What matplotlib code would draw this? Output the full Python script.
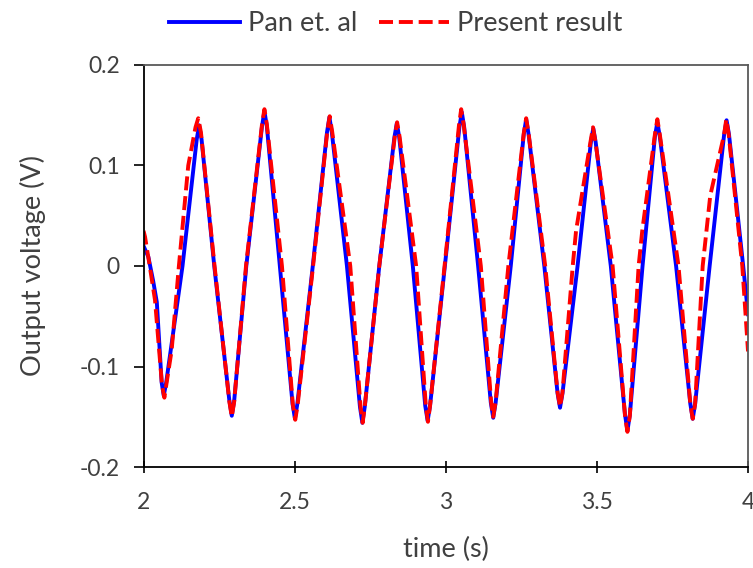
import matplotlib.pyplot as plt

# values (time in s, voltage in V)
pan_t = [2.000, 2.016, 2.032, 2.044, 2.060, 2.067, 2.075, 2.129,
         2.176, 2.184, 2.192, 2.234, 2.284, 2.292, 2.300, 2.340,
         2.392, 2.400, 2.408, 2.451, 2.493, 2.501, 2.509, 2.560,
         2.607, 2.615, 2.623, 2.673, 2.716, 2.724, 2.732, 2.780,
         2.830, 2.838, 2.846, 2.891, 2.932, 2.940, 2.948, 2.997,
         3.045, 3.053, 3.061, 3.107, 3.149, 3.157, 3.165, 3.215,
         3.258, 3.266, 3.274, 3.326, 3.370, 3.378, 3.386, 3.436,
         3.480, 3.488, 3.496, 3.546, 3.593, 3.601, 3.609, 3.651,
         3.692, 3.700, 3.708, 3.762, 3.809, 3.817, 3.825, 3.873,
         3.921, 3.929, 3.937, 3.984, 4.000]
pan_v = [0.020, 0.009, -0.015, -0.036, -0.116, -0.129, -0.116, 0.000,
         0.126, 0.140, 0.126, 0.000, -0.134, -0.149, -0.134, 0.000,
         0.139, 0.154, 0.139, 0.000, -0.137, -0.152, -0.137, 0.000,
         0.133, 0.148, 0.133, 0.000, -0.140, -0.156, -0.140, 0.000,
         0.128, 0.142, 0.128, 0.000, -0.139, -0.154, -0.139, 0.000,
         0.138, 0.153, 0.138, 0.000, -0.136, -0.151, -0.136, 0.000,
         0.131, 0.146, 0.131, 0.000, -0.127, -0.141, -0.127, 0.000,
         0.123, 0.137, 0.123, 0.000, -0.148, -0.164, -0.148, 0.000,
         0.129, 0.143, 0.129, 0.000, -0.137, -0.152, -0.137, 0.000,
         0.131, 0.145, 0.131, 0.000, -0.048]

present_t = [2.000, 2.005, 2.021, 2.038, 2.061, 2.069, 2.077, 2.093,
             2.117, 2.148, 2.172, 2.181, 2.190, 2.235, 2.284, 2.292,
             2.300, 2.339, 2.392, 2.400, 2.408, 2.458, 2.494, 2.502,
             2.510, 2.561, 2.608, 2.616, 2.624, 2.684, 2.718, 2.725,
             2.732, 2.780, 2.831, 2.839, 2.847, 2.902, 2.934, 2.941,
             2.948, 2.996, 3.044, 3.051, 3.059, 3.116, 3.150, 3.157,
             3.165, 3.207, 3.258, 3.266, 3.274, 3.329, 3.370, 3.378,
             3.386, 3.420, 3.431, 3.479, 3.487, 3.495, 3.552, 3.593,
             3.601, 3.609, 3.638, 3.650, 3.692, 3.700, 3.708, 3.770,
             3.809, 3.817, 3.825, 3.850, 3.875, 3.921, 3.928, 3.936,
             3.981, 4.000]
present_v = [0.035, 0.029, -0.001, -0.034, -0.118, -0.131, -0.115, -0.084,
             0.000, 0.100, 0.138, 0.147, 0.133, 0.000, -0.135, -0.150,
             -0.135, 0.000, 0.141, 0.156, 0.141, 0.000, -0.138, -0.153,
             -0.138, 0.000, 0.134, 0.149, 0.134, 0.000, -0.140, -0.156,
             -0.140, 0.000, 0.128, 0.143, 0.129, 0.000, -0.139, -0.155,
             -0.139, 0.000, 0.141, 0.156, 0.141, 0.000, -0.135, -0.150,
             -0.135, 0.000, 0.132, 0.147, 0.132, 0.000, -0.126, -0.140,
             -0.126, 0.000, 0.035, 0.124, 0.138, 0.124, 0.000, -0.149,
             -0.165, -0.149, 0.000, 0.035, 0.131, 0.146, 0.131, 0.000,
             -0.137, -0.152, -0.137, 0.000, 0.070, 0.131, 0.146, 0.131,
             0.000, -0.085]

x_ticks = [2, 2.5, 3, 3.5, 4]
x_tick_labels = ['2', '2.5', '3', '3.5', '4']
y_ticks = [-0.2, -0.1, 0, 0.1, 0.2]
y_tick_labels = ['-0.2', '-0.1', '0', '0.1', '0.2']

plt.rcParams['font.family'] = ['Lato', 'DejaVu Sans']
text_col = '#404040'
fs = 16.5      # tick labels
fs_big = 19.5  # axis titles and legend

fig = plt.figure(figsize=(7.53, 5.68), dpi=100)
ax = fig.add_axes([0.1906, 0.1778, 0.8028, 0.7078])

ax.plot(pan_t, pan_v, color='#0000ff', lw=2.8, label='Pan et. al',
        solid_joinstyle='round')
ax.plot(present_t, present_v, color='#ff0000', lw=2.8, dashes=(3.6, 1.5),
        label='Present result', dash_joinstyle='round')

ax.set_xlim(2, 4)
ax.set_ylim(-0.2, 0.2)
ax.set_xticks(x_ticks, x_tick_labels)
ax.set_yticks(y_ticks, y_tick_labels)

ax.tick_params(axis='y', direction='out', length=7, width=1.2,
               labelsize=fs, labelcolor=text_col, pad=10)
ax.tick_params(axis='x', direction='inout', length=8, width=1.2,
               labelsize=fs, labelcolor=text_col, pad=14)

for side in ['left', 'bottom']:
    ax.spines[side].set_linewidth(1.3)
    ax.spines[side].set_color('black')
for side in ['top', 'right']:
    ax.spines[side].set_linewidth(1.3)
    ax.spines[side].set_color('#595959')

ax.set_xlabel('time (s)', fontsize=fs_big, color=text_col, labelpad=17)
ax.set_ylabel('Output voltage (V)', fontsize=fs_big, color=text_col, labelpad=24)

fig.legend(loc='center', bbox_to_anchor=(0.526, 0.958), ncol=2,
           frameon=False, fontsize=fs_big, handlelength=2.6, handletextpad=0.3,
           columnspacing=0.8, labelcolor=text_col)

fig.savefig('out.png', dpi=100)
